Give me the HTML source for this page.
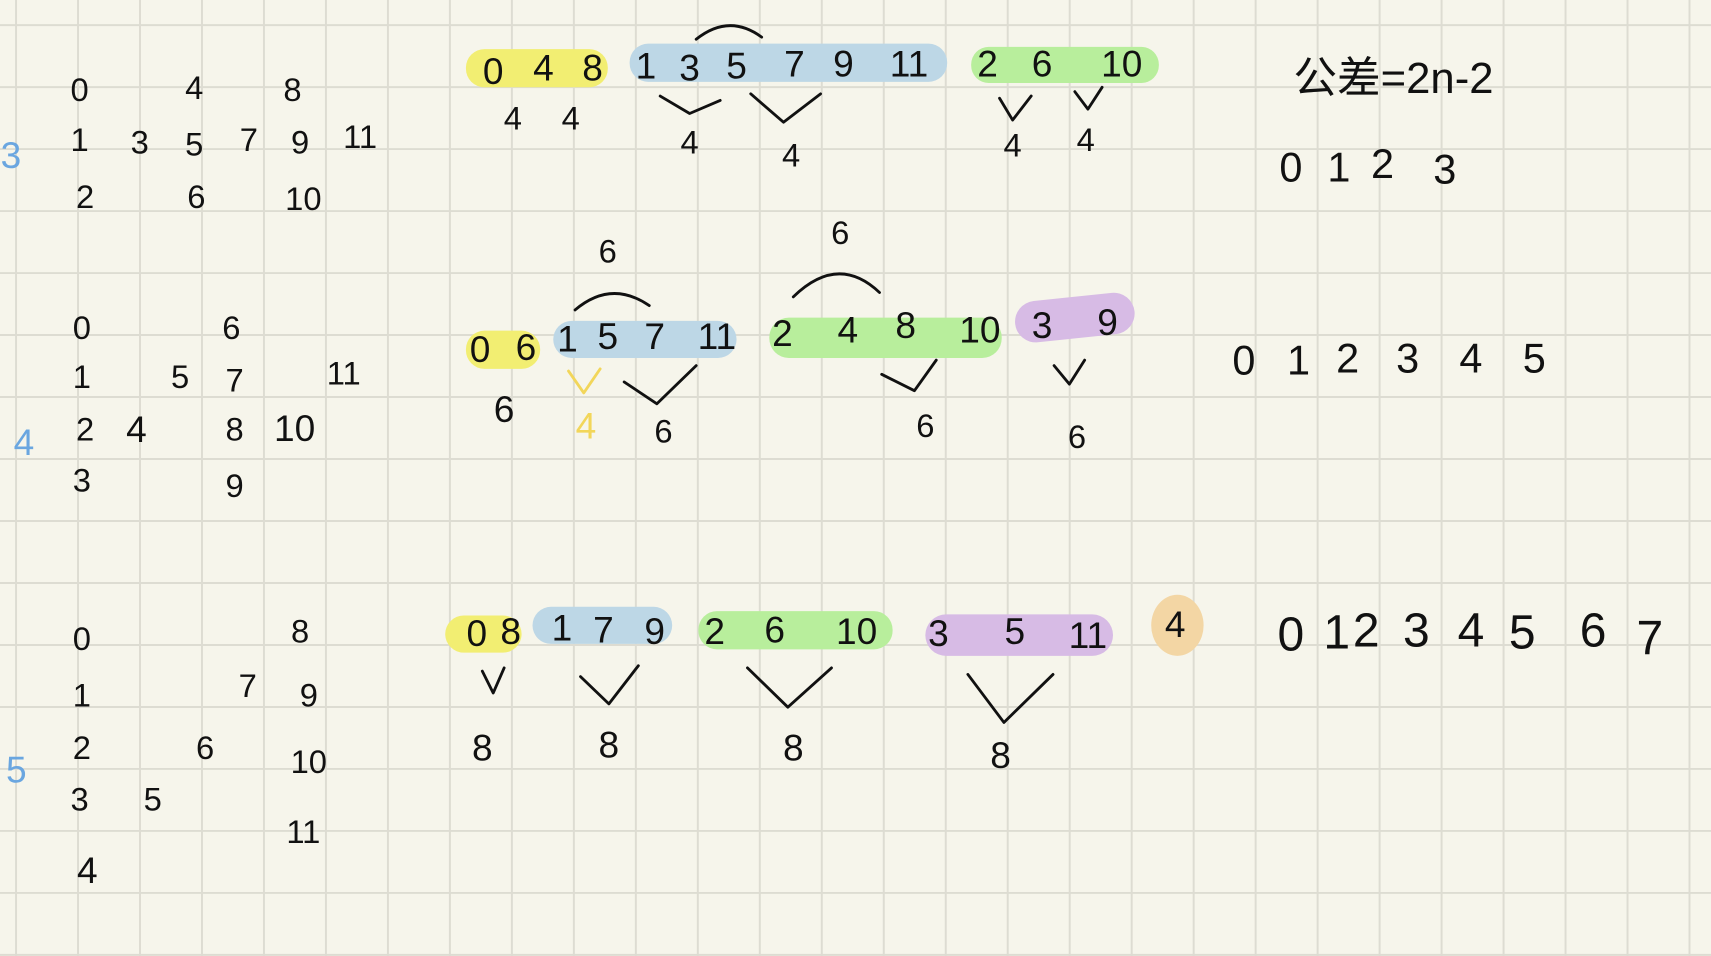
<!DOCTYPE html>
<html><head><meta charset="utf-8"><style>
html,body{margin:0;padding:0;background:#f6f5eb;}
svg{display:block}
text{font-family:"Liberation Sans","Noto Sans CJK SC",sans-serif;font-size:34px;fill:#111;text-anchor:middle;dominant-baseline:central}
.s{font-size:30px}
.b{fill:#6aa6e0}
.y{fill:#f2d65a}
.r{font-size:38px}
.r2{font-size:44px}
path{fill:none;stroke:#111;stroke-width:2.6;stroke-linecap:round;stroke-linejoin:round}
.hl{stroke:none}
</style></head><body>
<svg width="1711" height="956" viewBox="0 0 1568 876" preserveAspectRatio="none">
<rect width="1568" height="876" fill="#f6f5eb"/>
<g id="grid"></g>
<script>
var g=document.getElementById('grid'),ns='http://www.w3.org/2000/svg';
for(var x=14.7;x<1568;x+=56.8){var l=document.createElementNS(ns,'line');l.setAttribute('x1',x);l.setAttribute('x2',x);l.setAttribute('y1',0);l.setAttribute('y2',876);l.setAttribute('stroke','#dddcd2');l.setAttribute('stroke-width','1.8');g.appendChild(l);}
for(var y=23;y<876;y+=56.8){var l=document.createElementNS(ns,'line');l.setAttribute('y1',y);l.setAttribute('y2',y);l.setAttribute('x1',0);l.setAttribute('x2',1568);l.setAttribute('stroke','#dddcd2');l.setAttribute('stroke-width','1.8');g.appendChild(l);}
</script>

<g>
<rect class="hl" x="427" y="45" width="130" height="35" rx="17" fill="#f2ee72"/>
<rect class="hl" x="577" y="40" width="291" height="35" rx="17" fill="#bdd7e6"/>
<rect class="hl" x="890" y="43" width="172" height="33" rx="16" fill="#b8ee9c"/>
<rect class="hl" x="427" y="303" width="68" height="35" rx="17" fill="#f2ee72"/>
<rect class="hl" x="507" y="294" width="168" height="34" rx="17" fill="#bdd7e6"/>
<rect class="hl" x="705" y="291" width="213" height="37" rx="18" fill="#b8ee9c"/>
<rect class="hl" x="930" y="272" width="110" height="38" rx="19" fill="#d7bbe5" transform="rotate(-6 985 291)"/>
<rect class="hl" x="408" y="564" width="70" height="34" rx="17" fill="#f2ee72"/>
<rect class="hl" x="488" y="556" width="128" height="34" rx="17" fill="#bdd7e6"/>
<rect class="hl" x="640" y="560" width="178" height="35" rx="17" fill="#b8ee9c"/>
<rect class="hl" x="848" y="563" width="172" height="38" rx="19" fill="#d7bbe5"/>
<ellipse class="hl" cx="1079" cy="573" rx="24" ry="28" fill="#f3d6a4"/>
</g>

<g>
<text x="10" y="142" class="b">3</text>
<text x="73" y="82" class="s">0</text><text x="178" y="80" class="s">4</text><text x="268" y="82" class="s">8</text>
<text x="73" y="128" class="s">1</text><text x="128" y="130" class="s">3</text><text x="178" y="132" class="s">5</text><text x="228" y="128" class="s">7</text><text x="275" y="130" class="s">9</text><text x="330" y="125" class="s">11</text>
<text x="78" y="180" class="s">2</text><text x="180" y="180" class="s">6</text><text x="278" y="182" class="s">10</text>
</g>
<g>
<text x="22" y="405" class="b">4</text>
<text x="75" y="300" class="s">0</text><text x="212" y="300" class="s">6</text>
<text x="75" y="345" class="s">1</text><text x="165" y="345" class="s">5</text><text x="215" y="348" class="s">7</text><text x="315" y="342" class="s">11</text>
<text x="78" y="393" class="s">2</text><text x="125" y="393">4</text><text x="215" y="393" class="s">8</text><text x="270" y="392">10</text>
<text x="75" y="440" class="s">3</text><text x="215" y="445" class="s">9</text>
</g>
<g>
<text x="15" y="705" class="b">5</text>
<text x="75" y="585" class="s">0</text><text x="275" y="578" class="s">8</text>
<text x="75" y="637" class="s">1</text><text x="227" y="628" class="s">7</text><text x="283" y="637" class="s">9</text>
<text x="75" y="685" class="s">2</text><text x="188" y="685" class="s">6</text><text x="283" y="698" class="s">10</text>
<text x="73" y="732" class="s">3</text><text x="140" y="732" class="s">5</text><text x="278" y="762" class="s">11</text>
<text x="80" y="797">4</text>
</g>

<g>
<text x="452" y="65">0</text><text x="498" y="62">4</text><text x="543" y="62">8</text>
<text x="592" y="60">1</text><text x="632" y="62">3</text><text x="675" y="60">5</text><text x="728" y="58">7</text><text x="773" y="58">9</text><text x="833" y="58">11</text>
<text x="905" y="58">2</text><text x="955" y="58">6</text><text x="1028" y="58">10</text>
<text x="470" y="108" class="s">4</text><text x="523" y="108" class="s">4</text><text x="632" y="130" class="s">4</text><text x="725" y="142" class="s">4</text><text x="928" y="133" class="s">4</text><text x="995" y="128" class="s">4</text>
<path d="M638 36 Q668 12 698 34"/>
<path d="M605 88 L632 104 L660 92"/><path d="M688 86 L718 112 L752 86"/>
<path d="M916 90 L928 110 L945 88"/><path d="M985 84 L997 100 L1010 80"/>
<text x="1277" y="72" style="font-size:40px">公差=2n-2</text>
<text x="1183" y="153" class="r">0</text><text x="1227" y="153" class="r">1</text><text x="1267" y="150" class="r">2</text><text x="1324" y="155" class="r">3</text>
</g>

<g>
<text x="440" y="320">0</text><text x="482" y="318">6</text>
<text x="520" y="310">1</text><text x="557" y="308">5</text><text x="600" y="308">7</text><text x="657" y="308">11</text>
<text x="717" y="305">2</text><text x="777" y="302">4</text><text x="830" y="298">8</text><text x="898" y="302">10</text>
<text x="955" y="298">3</text><text x="1015" y="295">9</text>
<text x="557" y="230" class="s">6</text><text x="770" y="213" class="s">6</text>
<path d="M527 284 Q560 256 595 280"/><path d="M727 272 Q768 232 806 268"/>
<text x="462" y="375">6</text><text x="537" y="390" class="y">4</text><text x="608" y="395" class="s">6</text><text x="848" y="390" class="s">6</text><text x="987" y="400" class="s">6</text>
<path d="M521 340 L535 360 L550 338" style="stroke:#f2d65a"/>
<path d="M572 350 L602 370 L638 335"/><path d="M808 343 L838 358 L858 330"/><path d="M966 335 L980 352 L994 330"/>
<text x="1140" y="330" class="r">0</text><text x="1190" y="330" class="r">1</text><text x="1235" y="328" class="r">2</text><text x="1290" y="328" class="r">3</text><text x="1348" y="328" class="r">4</text><text x="1406" y="328" class="r">5</text>
</g>

<g>
<text x="437" y="580">0</text><text x="468" y="578">8</text>
<text x="515" y="575">1</text><text x="553" y="577">7</text><text x="600" y="578">9</text>
<text x="655" y="578">2</text><text x="710" y="577">6</text><text x="785" y="578">10</text>
<text x="860" y="580">3</text><text x="930" y="578">5</text><text x="997" y="582">11</text>
<text x="1077" y="572">4</text>
<path d="M442 615 L452 635 L462 612"/><path d="M532 620 L558 645 L585 610"/>
<path d="M685 612 L722 648 L762 612"/><path d="M887 618 L920 662 L965 618"/>
<text x="442" y="685">8</text><text x="558" y="682">8</text><text x="727" y="685">8</text><text x="917" y="692">8</text>
<text x="1183" y="582" class="r2">0</text><text x="1225" y="580" class="r2">1</text><text x="1252" y="578" class="r2">2</text><text x="1298" y="578" class="r2">3</text><text x="1348" y="578" class="r2">4</text><text x="1395" y="580" class="r2">5</text><text x="1460" y="578" class="r2">6</text><text x="1512" y="585" class="r2">7</text>
</g>
</svg>
</body></html>
